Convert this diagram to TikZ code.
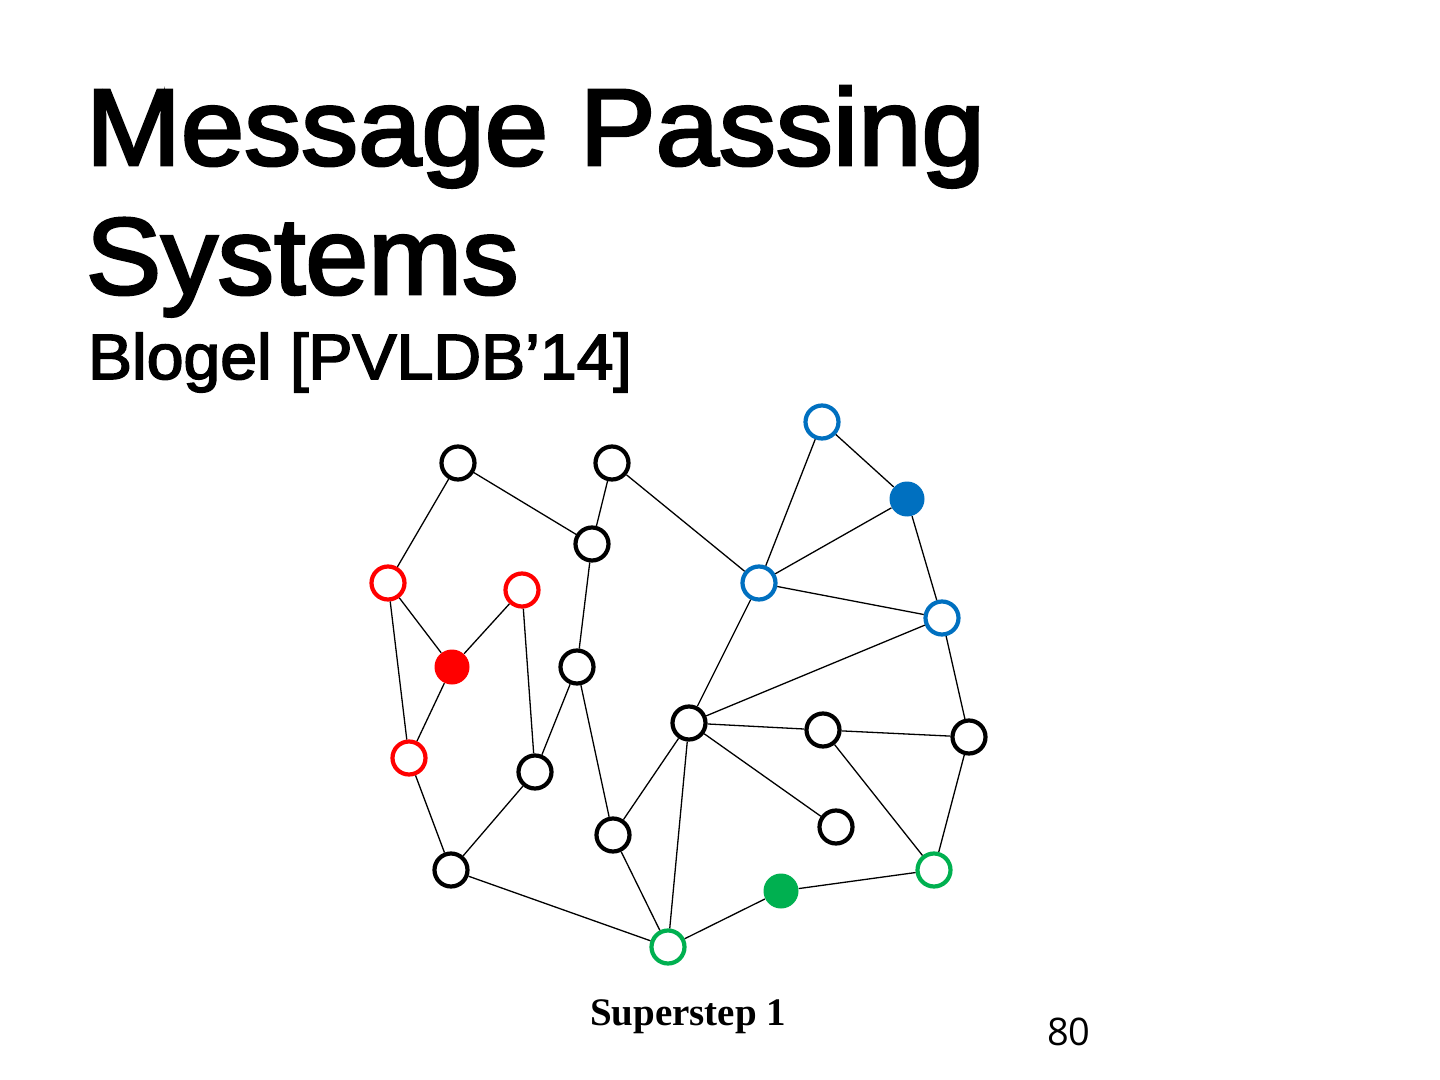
\documentclass[tikz,border=0pt]{standalone}
\usepackage{fontspec}
\setmainfont{Liberation Sans}
\newfontfamily\titlefont[FakeBold=2.6]{Liberation Sans}
\newfontfamily\serifbold{Liberation Serif}
\newfontfamily\numfont{Open Sans}
\definecolor{nred}{HTML}{FF0000}
\definecolor{nblue}{HTML}{0070C0}
\definecolor{ngreen}{HTML}{00B050}
\begin{document}
\begin{tikzpicture}[x=0.5pt,y=-0.5pt,
  vtx/.style={circle,draw=#1,fill=white,line width=2.1pt,inner sep=0pt,minimum size=16.5pt},
  vtx/.default=black,
  act/.style={circle,fill=#1,draw=none,inner sep=0pt,minimum size=17.5pt},
  edge/.style={draw=black,line width=0.65pt},
  txt/.style={anchor=base west,inner sep=0pt,outer sep=0pt}]
\useasboundingbox[fill=white] (0,0) rectangle (1440,1080);

% texts
\node[txt] (t1) at (86,165) {\fontsize{54.5}{60}\selectfont\titlefont\scalebox{1.045}[1]{Message Passing}};
\node[txt] (t2) at (86,294) {\fontsize{54.5}{60}\selectfont\titlefont\scalebox{1.035}[1]{Systems}};
\node[txt] (t3) at (88,379) {\fontsize{32}{36}\selectfont\titlefont\scalebox{1.033}[1]{Blogel [PVLDB’14]}};
\node[txt] (t4) at (590,1025) {\fontsize{19.5}{22}\selectfont\serifbold\bfseries Superstep 1};
\node[txt] (t5) at (1047,1045) {\fontsize{19}{22}\selectfont\numfont 80};

% vertices
\node[vtx] (A) at (458,463) {};
\node[vtx] (B) at (612,463) {};
\node[vtx] (C) at (592,544) {};
\node[vtx=nred] (R1) at (388,583) {};
\node[vtx=nred] (R2) at (522,590) {};
\node[act=nred] (Rf) at (452,667) {};
\node[vtx] (D) at (577,667) {};
\node[vtx=nblue] (Bl1) at (822,422) {};
\node[act=nblue] (Bf) at (907,499) {};
\node[vtx=nblue] (Bl2) at (759,583) {};
\node[vtx=nblue] (Bl3) at (942,618) {};
\node[vtx=nred] (R3) at (409,758) {};
\node[vtx] (E) at (535,772) {};
\node[vtx] (F) at (613,835) {};
\node[vtx] (G) at (451,870) {};
\node[vtx=ngreen] (Gr1) at (668,947) {};
\node[vtx] (H) at (689,723) {};
\node[vtx] (I) at (823,730) {};
\node[vtx] (J) at (969,737) {};
\node[vtx] (K) at (836,827) {};
\node[vtx=ngreen] (Gr2) at (934,870) {};
\node[act=ngreen] (Gf) at (781,891) {};

% edges
\foreach \a/\b in {A/R1,A/C,B/C,B/Bl2,C/D,R1/Rf,R1/R3,R2/Rf,R2/E,Rf/R3,D/E,D/F,R3/G,E/G,G/Gr1,F/H,F/Gr1,H/Gr1,H/Bl2,H/Bl3,H/I,H/K,I/J,I/Gr2,J/Bl3,J/Gr2,Gr2/Gf,Gf/Gr1,Bl1/Bl2,Bl1/Bf,Bf/Bl2,Bf/Bl3,Bl2/Bl3}
  \draw[edge] (\a) -- (\b);
\end{tikzpicture}
\end{document}
